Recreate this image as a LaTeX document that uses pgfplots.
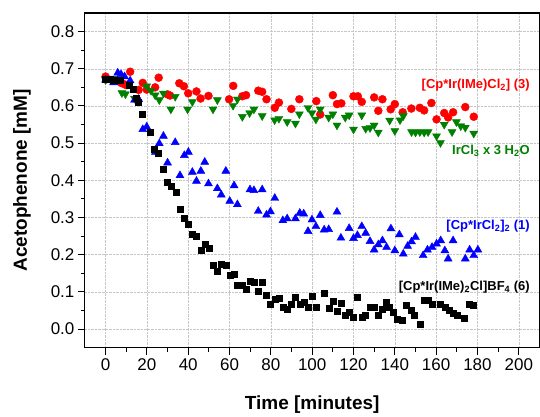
\documentclass[border=0pt]{standalone}
\usepackage{fontspec}
\setmainfont{Liberation Sans}
\usepackage{pgfplots}
\pgfplotsset{compat=1.18}

\definecolor{cRed}{RGB}{255,0,0}
\definecolor{cGreen}{RGB}{0,128,0}
\definecolor{cBlue}{RGB}{0,0,255}

\begin{document}
\begin{tikzpicture}
\begin{axis}[
  scale only axis, width=455pt, height=335pt,
  xmin=-10, xmax=210, ymin=-0.05, ymax=0.85,
  xtick={0,20,...,200}, ytick={0,0.1,0.2,0.3,0.4,0.5,0.6,0.7,0.8},
  minor x tick num=1, minor y tick num=1,
  tick align=outside, tick pos=left,
  major tick length=7pt, minor tick length=4pt,
  grid=major, grid style={densely dotted, black!22},
  axis line style={line width=1.1pt},
  every tick/.style={black, line width=0.9pt},
  ticklabel style={font=\fontsize{17}{20}\selectfont},
  /pgf/number format/assume math mode=true,
  yticklabel style={/pgf/number format/.cd, fixed, fixed zerofill, precision=1},
  xlabel={Time [minutes]}, ylabel={Acetophenone [mM]},
  label style={font=\fontsize{19}{22}\selectfont\bfseries},
  xlabel style={at={(axis description cs:0.5,0)}, anchor=center, yshift=-57pt},
  ylabel style={at={(axis description cs:0,0.5)}, anchor=center, yshift=63pt},
  clip=false,
]
% [Cp*Ir(IMe)Cl2] (3)
\addplot[only marks, mark=*, mark size=4pt, cRed, mark options={fill=cRed, draw=cRed}] coordinates {
(0,0.679) (7.5,0.662) (9.2,0.658) (10.3,0.656) (11.9,0.692) (16,0.643) (18,0.662)
(19.9,0.644) (24,0.650) (25.7,0.676) (30,0.631) (31.2,0.628) (35.7,0.661) (37.9,0.653)
(40,0.634) (44,0.639) (46,0.620) (49.8,0.627) (59.8,0.618) (61.8,0.654) (66.2,0.626)
(68,0.629) (73.9,0.641) (75.8,0.638) (77.9,0.618) (81.9,0.595) (83.9,0.609) (89.9,0.592)
(93.8,0.618) (102,0.613) (103.9,0.577) (110,0.629) (112,0.605) (114.1,0.607) (120,0.626)
(122.1,0.626) (124,0.611) (130,0.623) (132,0.587) (134,0.618) (138,0.591) (140,0.605)
(143.8,0.583) (148,0.593) (152.1,0.595) (154.2,0.588) (157.7,0.608) (160.2,0.564)
(163.9,0.581) (165.8,0.569) (168.2,0.583) (174.1,0.597) (178.2,0.571)
};
% IrCl3 x 3 H2O
\addplot[only marks, mark=triangle*, mark size=4.6pt, cGreen, mark options={fill=cGreen, draw=cGreen, rotate=180}] coordinates {
(0,0.670) (3.9,0.674) (7.9,0.635) (9.6,0.632) (14,0.620) (19.9,0.653) (22,0.641) (24,0.629)
(26,0.616) (28,0.634) (31.6,0.591) (33.7,0.625) (39.7,0.591) (42,0.611) (52,0.591)
(54.1,0.616) (61.7,0.601) (63.8,0.618) (66.2,0.571) (69.7,0.581) (71.8,0.591) (75.8,0.573)
(81.8,0.562) (83.9,0.566) (87.9,0.557) (91.9,0.553) (93.8,0.578) (98,0.595) (99.9,0.581)
(101.8,0.564) (103.9,0.591) (108,0.569) (110,0.578) (112,0.548) (116,0.569) (117.9,0.575)
(120,0.537) (124,0.575) (125.9,0.539) (128,0.541) (130,0.548) (132,0.529) (137.5,0.561)
(140,0.533) (142.5,0.562) (144.1,0.573) (148.1,0.530) (150,0.529) (152.1,0.530)
(154.2,0.529) (156.1,0.530) (160.2,0.519) (162.1,0.501) (163.9,0.550) (167.7,0.530)
(169.8,0.557) (171.9,0.546) (174.1,0.542) (178.2,0.526)
};
% [Cp*IrCl2]2 (1)
\addplot[only marks, mark=triangle*, mark size=4.6pt, cBlue, mark options={fill=cBlue, draw=cBlue}] coordinates {
(0,0.670) (2,0.668) (3.9,0.663) (5.9,0.689) (7.5,0.685) (9.2,0.679) (11.9,0.668) (14,0.616)
(16,0.618) (18,0.537) (19.9,0.544) (24.1,0.476) (26,0.499) (28,0.519) (30,0.447)
(33.7,0.502) (36,0.413) (38.1,0.467) (40.1,0.476) (42,0.422) (44,0.398) (46.1,0.425)
(48,0.449) (49.8,0.391) (54.1,0.378) (56,0.361) (58.2,0.425) (60.1,0.344) (62.2,0.386)
(63.8,0.335) (69.9,0.375) (71.8,0.373) (73.9,0.317) (75.8,0.375) (77.9,0.307) (79.8,0.316)
(81.9,0.352) (85.8,0.292) (87.9,0.297) (91.9,0.297) (94,0.312) (95.9,0.310) (98,0.263)
(99.9,0.294) (101.8,0.276) (103.9,0.306) (105.8,0.267) (108,0.268) (112,0.315)
(113.9,0.245) (117.9,0.271) (120,0.244) (121.9,0.252) (124,0.276) (125.9,0.258)
(128,0.236) (130,0.213) (132,0.227) (134,0.238) (136,0.220) (138.1,0.270) (140,0.211)
(142.2,0.254) (144.1,0.202) (146.2,0.223) (148.1,0.235) (150,0.247) (153.7,0.198)
(155.8,0.213) (158,0.220) (160.2,0.229) (162.2,0.238) (164.2,0.211) (165.8,0.189)
(168.2,0.238) (174.1,0.189) (176.2,0.213) (178.2,0.198) (180.2,0.213)
};
% [Cp*Ir(IMe)2Cl]BF4 (6)
\addplot[only marks, mark=square*, mark size=3pt, black, mark options={fill=black, draw=black}] coordinates {
(0,0.672) (2,0.672) (3.5,0.670) (7.1,0.670) (11.6,0.656) (13.6,0.645) (14.8,0.622)
(16,0.609) (17.6,0.577) (21.7,0.530) (23.6,0.484) (25.7,0.474) (28,0.430) (30,0.394)
(32,0.384) (34.1,0.367) (36,0.322) (38.1,0.297) (40,0.283) (42,0.254) (44,0.249)
(46.1,0.211) (48,0.229) (50.1,0.217) (52,0.173) (54.1,0.155) (56,0.175) (58.2,0.171)
(60.1,0.146) (62.2,0.148) (63.8,0.119) (66.2,0.117) (68,0.108) (70.2,0.128) (71.8,0.126)
(73.9,0.103) (75.8,0.126) (77.9,0.092) (79.8,0.066) (81.9,0.081) (83.9,0.084) (85.8,0.060)
(87.9,0.054) (90,0.067) (91.9,0.085) (94,0.066) (95.9,0.072) (98,0.058) (99.9,0.088)
(101.8,0.058) (105.8,0.097) (108,0.057) (110,0.074) (112,0.047) (113.9,0.069) (116,0.036)
(117.9,0.045) (120,0.031) (121.9,0.085) (124,0.033) (125.9,0.038) (128,0.058) (130,0.060)
(132,0.038) (134,0.054) (136,0.072) (137.3,0.058) (139.3,0.045) (141.3,0.027) (143.6,0.024)
(145.7,0.063) (147.8,0.051) (149.4,0.036) (152.1,0.013) (154.1,0.078) (156.1,0.078)
(158.1,0.067) (162.1,0.067) (164.2,0.058) (166.3,0.051) (168.2,0.042) (170.3,0.036)
(173.8,0.030) (176.2,0.066) (177.8,0.063)
};
\node[anchor=east, text=cRed, font=\fontsize{13}{15}\selectfont\bfseries] at (axis cs:207,0.656) {[Cp*Ir(IMe)Cl\textsubscript{2}] (3)};
\node[anchor=east, text=cGreen, font=\fontsize{13}{15}\selectfont\bfseries] at (axis cs:207,0.479) {IrCl\textsubscript{3} x 3 H\textsubscript{2}O};
\node[anchor=east, text=cBlue, font=\fontsize{13}{15}\selectfont\bfseries] at (axis cs:207,0.276) {[Cp*IrCl\textsubscript{2}]\textsubscript{2} (1)};
\node[anchor=east, text=black, font=\fontsize{13}{15}\selectfont\bfseries] at (axis cs:207,0.114) {[Cp*Ir(IMe)\textsubscript{2}Cl]BF\textsubscript{4} (6)};
\end{axis}
\path ([xshift=-85pt,yshift=-61pt]current axis.south west) ([yshift=13pt]current axis.north east);
\end{tikzpicture}
\end{document}
